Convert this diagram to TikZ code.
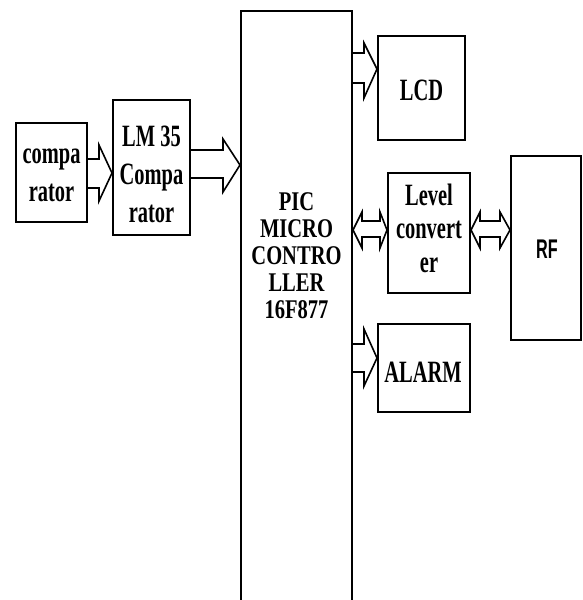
\documentclass[tikz,border=0pt]{standalone}
\usepackage{fontspec}
\newfontfamily\tnr[FakeStretch=0.66]{Liberation Serif}
\newfontfamily\tnrpic[FakeStretch=0.76]{Liberation Serif}
\newfontfamily\narrowsans[FakeStretch=0.6]{Liberation Sans}
\usetikzlibrary{calc}
\begin{document}
\begin{tikzpicture}[x=1pt,y=-1pt,
  box/.style={draw, line width=2pt, rectangle, inner sep=0pt},
  txt/.style={inner sep=0pt, align=center, font=\tnr\bfseries\fontsize{31}{38}\selectfont},
  arr/.style={draw, line width=1.6pt, line join=miter}]
\useasboundingbox (0,0) rectangle (582,600);
% boxes
\node[box, minimum width=71pt, minimum height=99pt] (comp) at (51.5,172.5) {};
\node[txt] (comptxt) at (51.5,175) {compa\\rator};
\node[box, minimum width=77pt, minimum height=135pt] (lm) at (151.5,167.5) {};
\node[txt] (lmtxt) at (151.5,174) {LM 35\\Compa\\rator};
\node[box, minimum width=111pt, minimum height=604pt] (pic) at (296.5,313) {};
\node[txt, font=\tnrpic\bfseries\fontsize{27}{27}\selectfont] (piclbl) at (296.5,256) {PIC\\MICRO\\CONTRO\\LLER\\16F877};
\node[box, minimum width=87pt, minimum height=104pt] (lcd) at (421.5,88) {};
\node[txt] (lcdtxt) at (421.5,90) {LCD};
\node[box, minimum width=82pt, minimum height=120pt] (lvl) at (429,233) {};
\node[txt, font=\tnr\bfseries\fontsize{31}{33.5}\selectfont] (lvltxt) at (429,228) {Level\\convert\\er};
\node[box, minimum width=92pt, minimum height=88pt] (alarm) at (424,368) {};
\node[txt] (alarmtxt) at (423,372) {ALARM};
\node[box, minimum width=70pt, minimum height=184pt] (rf) at (546,248) {};
\node[txt, font=\narrowsans\bfseries\fontsize{27}{30}\selectfont] (rftxt) at (547,249) {RF};
% arrows
\draw[arr] (comp.east |- 0,159) -- (99,159) -- (99,145) -- (lm.west |- 0,173) -- (99,201) -- (99,188) -- (comp.east |- 0,188);
\draw[arr] (lm.east |- 0,150) -- (223,150) -- (223,139) -- (pic.west |- 0,165) -- (223,192) -- (223,178) -- (lm.east |- 0,178);
\draw[arr] (pic.east |- 0,53) -- (364,53) -- (364,43) -- (lcd.west |- 0,69) -- (364,98) -- (364,83) -- (pic.east |- 0,83);
\draw[arr] (pic.east |- 0,344) -- (364,344) -- (364,329) -- (alarm.west |- 0,358) -- (364,386) -- (364,372) -- (pic.east |- 0,372);
\draw[arr] (362,221) -- (380,221) -- (380,212) -- (lvl.west |- 0,230) -- (380,248) -- (380,237) -- (362,237) -- (362,248) -- (pic.east |- 0,230) -- (362,212) -- cycle;
\draw[arr] (480,221) -- (500,221) -- (500,212) -- (rf.west |- 0,230) -- (500,248) -- (500,237) -- (480,237) -- (480,248) -- (lvl.east |- 0,230) -- (480,212) -- cycle;
\end{tikzpicture}
\end{document}
